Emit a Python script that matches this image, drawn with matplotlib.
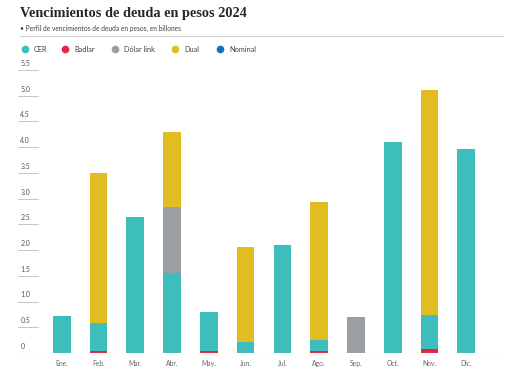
import matplotlib
matplotlib.use("Agg")
import matplotlib.pyplot as plt
import matplotlib.transforms as mtransforms
from matplotlib.lines import Line2D
import numpy as np

months = ["Ene.", "Feb.", "Mar.", "Abr.", "May.", "Jun.", "Jul.", "Ago.", "Sep.", "Oct.", "Nov.", "Dic."]
badlar = [0, 0.04, 0, 0, 0.04, 0, 0, 0.04, 0, 0, 0.08, 0]
cer = [0.72, 0.54, 2.65, 1.55, 0.76, 0.22, 2.10, 0.21, 0, 4.10, 0.66, 3.97]
dolar_link = [0, 0, 0, 1.29, 0, 0, 0, 0, 0.70, 0, 0, 0]
dual = [0, 2.91, 0, 1.46, 0, 1.84, 0, 2.69, 0, 0, 4.37, 0]
nominal = [0] * 12
yticks = [0, 0.5, 1.0, 1.5, 2.0, 2.5, 3.0, 3.5, 4.0, 4.5, 5.0, 5.5]
ytick_labels = ["0", "0.5", "1.0", "1.5", "2.0", "2.5", "3.0", "3.5", "4.0", "4.5", "5.0", "5.5"]

series = [("Badlar", badlar, "#e2263b"),
          ("CER", cer, "#3dbdbc"),
          ("Dólar link", dolar_link, "#9b9fa4"),
          ("Dual", dual, "#e2bd22"),
          ("Nominal", nominal, "#1b6fb1")]
legend_order = ["CER", "Badlar", "Dólar link", "Dual", "Nominal"]
colors = {n: c for n, _, c in series}

W, H = 508, 372
fig = plt.figure(figsize=(W / 100, H / 100), dpi=100)
fig.patch.set_facecolor("white")

def fx(px):
    return px / W

def fy(py):
    return 1 - py / H

ax = fig.add_axes([fx(18), fy(353), fx(503) - fx(18), fy(70) - fy(353)])
x = np.arange(len(months))
bottom = np.zeros(len(months))
for name, vals, col in series:
    v = np.array(vals, dtype=float)
    ax.bar(x, v, bottom=bottom, width=0.48, color=col, linewidth=0, zorder=2)
    bottom += v

ax.set_xlim(-1.19, 12.0)
ax.set_ylim(0, 5.5)
for s in ax.spines.values():
    s.set_visible(False)
ax.set_xticks([])
ax.set_yticks([])
ax.axhline(0, color="#cfcfcf", lw=0.8, zorder=3)

trans = mtransforms.blended_transform_factory(ax.transAxes, ax.transData)
for t, lab in zip(yticks, ytick_labels):
    if t > 0:
        ax.plot([0, 0.042], [t, t], transform=trans, color="#bdbdbd", lw=0.6, clip_on=False)
    ax.text(0.005, t + 0.06, lab, transform=trans, fontsize=5.0, family="Lato",
            color="#555555", ha="left", va="bottom")

for i, m in enumerate(months):
    ax.text(i, -0.2, m, fontsize=4.9, family="Lato", color="#666666",
            ha="center", va="center", clip_on=False)

fig.text(fx(20), fy(14), "Vencimientos de deuda en pesos 2024", fontsize=10.3,
         family="Liberation Serif", fontweight="bold", color="#262626", va="center", ha="left")
fig.text(fx(20), fy(28.5), "• Perfil de vencimientos de deuda en pesos, en billones", fontsize=4.8,
         family="Lato", color="#444444", va="center", ha="left")
fig.add_artist(Line2D([fx(20), fx(503)], [fy(36), fy(36)], color="#c8c8c8", lw=0.6))

leg_x = [25, 65, 115, 175, 220]
for name, px in zip(legend_order, leg_x):
    fig.add_artist(Line2D([fx(px)], [fy(49)], marker="o", markersize=5.5, color=colors[name],
                          markeredgewidth=0, linestyle="none"))
    fig.text(fx(px + 9), fy(49), name, fontsize=5.3, family="Lato", color="#444444",
             va="center", ha="left")

fig.savefig("out.png", dpi=100)
